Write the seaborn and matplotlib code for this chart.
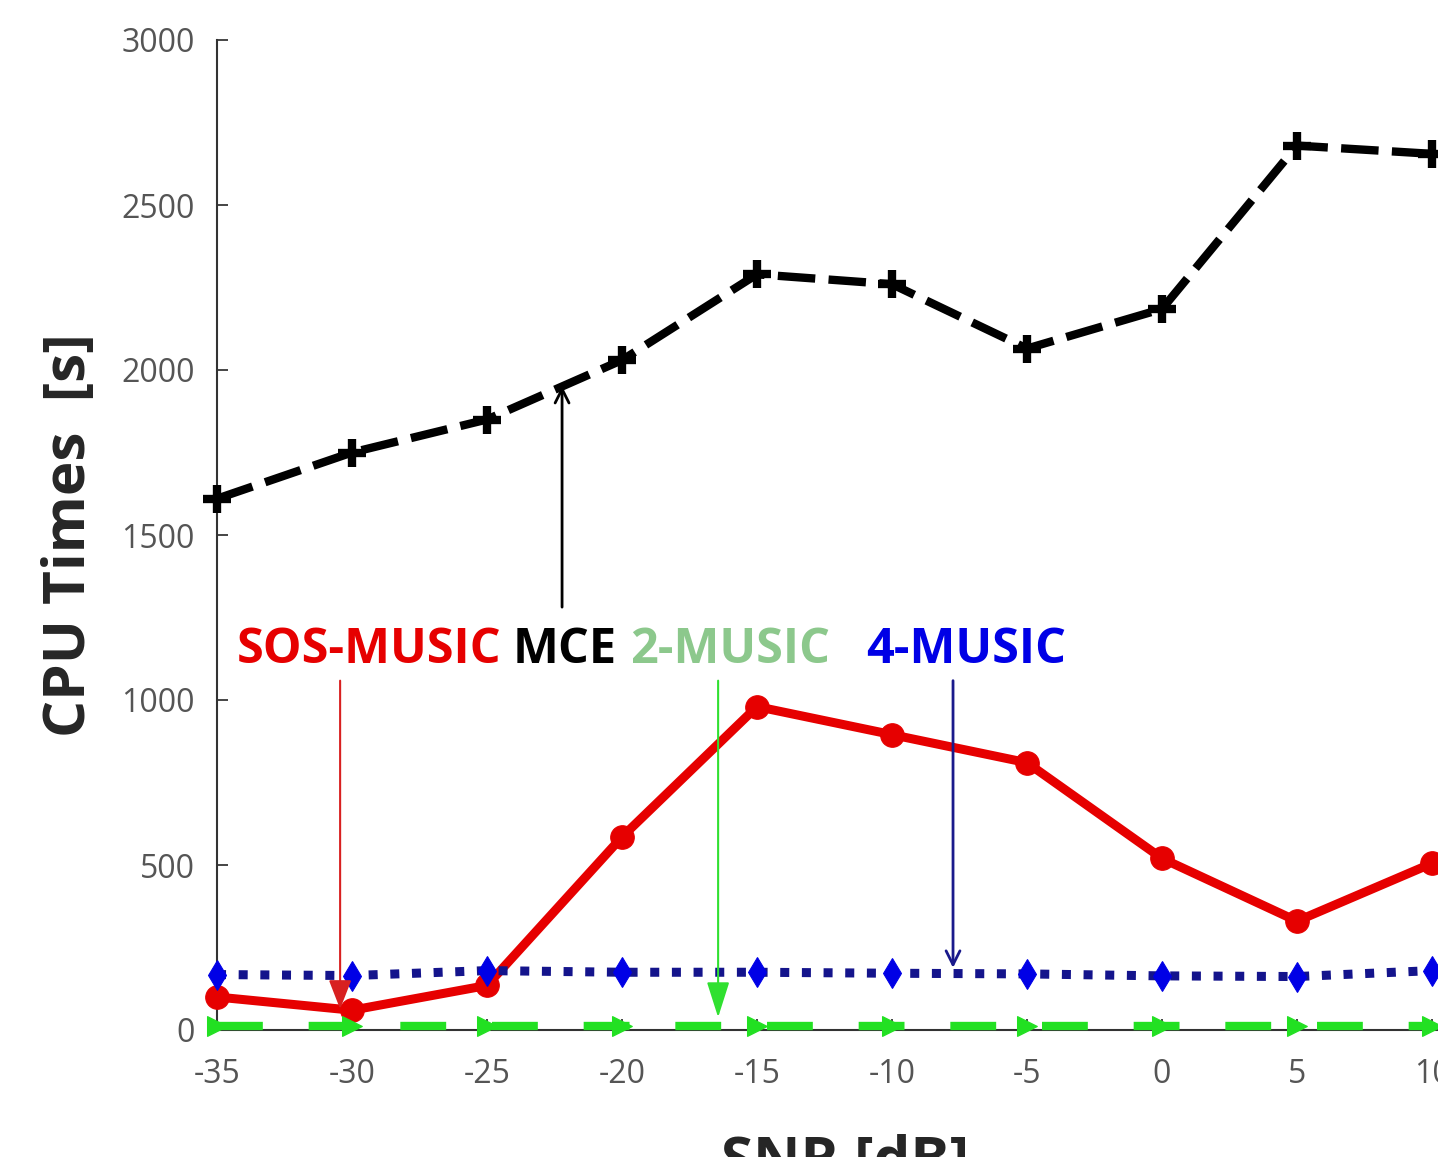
import numpy as np
import pandas as pd
import matplotlib
matplotlib.use('Agg')
import matplotlib.pyplot as plt
import seaborn as sns

snr = [-35, -30, -25, -20, -15, -10, -5, 0, 5, 10]
mce = [1610, 1750, 1850, 2030, 2290, 2260, 2065, 2185, 2680, 2655]
sos_music = [100, 60, 135, 585, 980, 895, 810, 520, 330, 505]
music4 = [168, 165, 180, 175, 175, 172, 170, 164, 162, 180]
music2 = [12, 12, 12, 12, 12, 12, 12, 12, 12, 12]

df = pd.DataFrame({'snr': snr, 'mce': mce, 'sos': sos_music, 'm4': music4, 'm2': music2})

sns.set_style('ticks')
plt.rcParams['font.family'] = ['Open Sans', 'DejaVu Sans']
plt.rcParams['axes.unicode_minus'] = False

fig = plt.figure(figsize=(14.38, 11.57), dpi=100)
ax = fig.add_axes([217/1438, 1 - 1030/1157, 1350/1438, 990/1157])

sns.lineplot(data=df, x='snr', y='mce', ax=ax, color='black', lw=6, ls=(0, (4.5, 1.6)),
             marker='+', ms=20, mew=6, mec='black', clip_on=False, zorder=3)
sns.lineplot(data=df, x='snr', y='sos', ax=ax, color='#e60000', lw=6.5,
             marker='o', ms=17, mec='#e60000', clip_on=False, zorder=3)
sns.lineplot(data=df, x='snr', y='m4', ax=ax, color='#14148c', lw=6.5, ls=(0, (1, 1.4)),
             marker='d', ms=15, mfc='#0000e6', mec='#0000e6', clip_on=False, zorder=3)
sns.lineplot(data=df, x='snr', y='m2', ax=ax, color='#22e022', lw=6, ls=(0, (5.5, 5.5)),
             marker='>', ms=14, mec='#22e022', clip_on=False, zorder=4)

ax.set_xlim(-35, 15)
ax.set_ylim(0, 3000)
ax.set_xticks(np.arange(-35, 15, 5))
ax.set_yticks(np.arange(0, 3001, 500))
ax.tick_params(direction='in', length=8, width=1.2, labelsize=23, labelcolor='#555555')
ax.tick_params(axis='x', pad=20)
ax.tick_params(axis='y', pad=16)
sns.despine(ax=ax)
for s in ['left', 'bottom']:
    ax.spines[s].set_linewidth(1.5)
    ax.spines[s].set_color('#333333')

ax.set_ylabel('CPU Times  [s]', fontsize=42, fontweight='bold', labelpad=16)
ax.set_xlabel('SNR [dB]', fontsize=42, fontweight='bold')
ax.xaxis.set_label_coords(0.465, -0.105)

# method labels with arrows
ty = 1150
ax.text(-34.26, ty, 'SOS-MUSIC', color='#e60000', fontsize=35, fontweight='bold', va='center')
ax.text(-24.04, ty, 'MCE', color='black', fontsize=35, fontweight='bold', va='center')
ax.text(-19.7, ty, '2-MUSIC', color='#8cc88c', fontsize=35, fontweight='bold', va='center')
ax.text(-10.96, ty, '4-MUSIC', color='#0000e6', fontsize=35, fontweight='bold', va='center')

ax.annotate('', xy=(-30.44, 55), xytext=(-30.44, 1067),
            arrowprops=dict(arrowstyle='-|>,head_length=1.8,head_width=0.7', color='#d82020', lw=1.5))
ax.annotate('', xy=(-16.44, 30), xytext=(-16.44, 1067),
            arrowprops=dict(arrowstyle='-|>,head_length=2.2,head_width=0.7', color='#30e030', lw=1.5))
ax.annotate('', xy=(-7.74, 180), xytext=(-7.74, 1067),
            arrowprops=dict(arrowstyle='->,head_length=1.0,head_width=0.5', color='#1a1a8c', lw=2))
ax.annotate('', xy=(-22.22, 1960), xytext=(-22.22, 1273),
            arrowprops=dict(arrowstyle='->,head_length=1.0,head_width=0.5', color='black', lw=2))

fig.savefig('out.png', dpi=100)
